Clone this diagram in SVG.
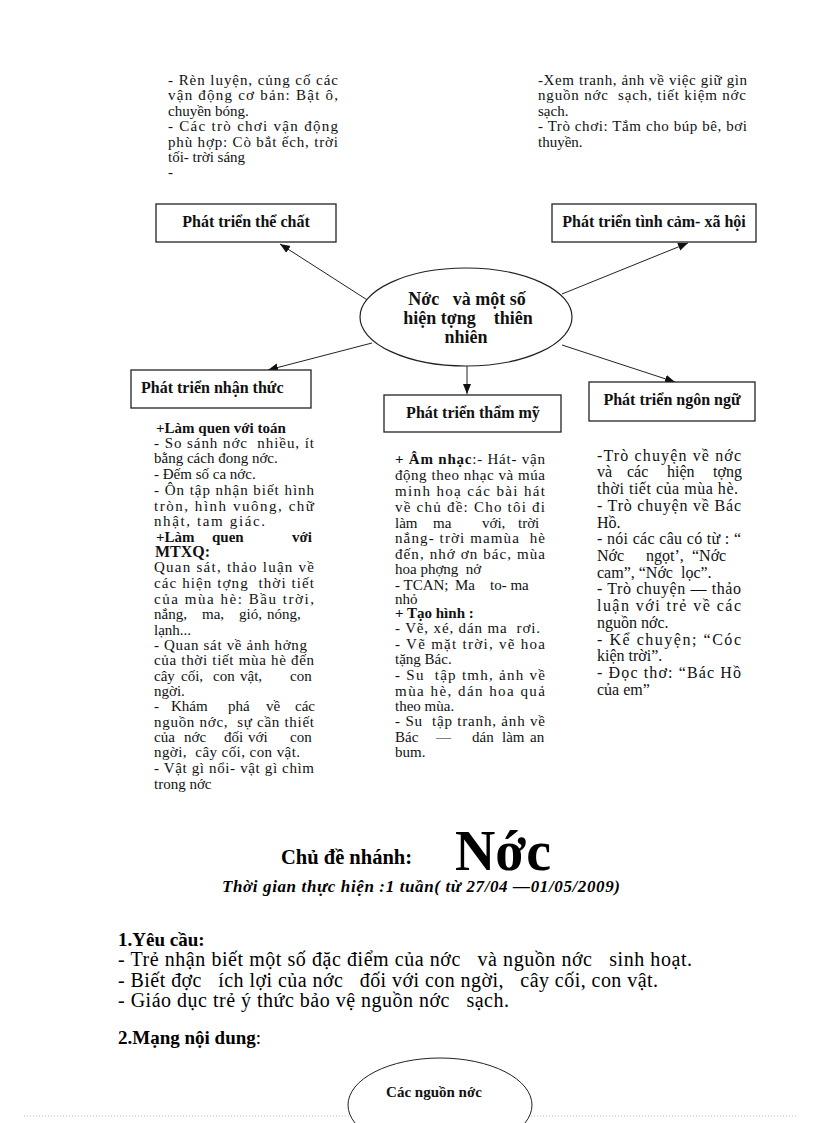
<svg xmlns="http://www.w3.org/2000/svg" width="816" height="1123" viewBox="0 0 816 1123">
<defs>
<style>
.t{font-family:"Liberation Serif","Times New Roman",serif;font-size:15px;fill:#111}
.r{font-family:"Liberation Serif","Times New Roman",serif;font-size:16px;fill:#111}
.b{font-weight:bold}
.lbl{font-family:"Liberation Serif","Times New Roman",serif;font-size:16px;font-weight:bold;fill:#111}
.box{fill:#fff;stroke:#222;stroke-width:1.3}
.con{stroke:#222;stroke-width:1;fill:none}
.big{font-family:"Liberation Serif","Times New Roman",serif;fill:#000}
</style>
<marker id="ah" markerUnits="userSpaceOnUse" markerWidth="10" markerHeight="10" viewBox="0 0 10 10" refX="10" refY="5" orient="auto">
<path d="M0,1 L10,5 L0,9 Z" fill="#111"/>
</marker>
</defs>
<rect width="816" height="1123" fill="#fff"/>

<g id="text-the-chat">
<text class="t" x="168" y="85" textLength="170" lengthAdjust="spacing">- Rèn luyện, củng cố các</text>
<text class="t" x="168" y="100" textLength="170" lengthAdjust="spacing">vận động cơ bản: Bật ô,</text>
<text class="t" x="168" y="116">chuyền bóng.</text>
<text class="t" x="168" y="131" textLength="170" lengthAdjust="spacing">- Các trò chơi vận động</text>
<text class="t" x="168" y="147" textLength="170" lengthAdjust="spacing">phù hợp: Cò bắt ếch, trời</text>
<text class="t" x="168" y="162">tối- trời sáng</text>
<text class="t" x="168" y="177">-</text>
</g>

<g id="text-tinh-cam">
<text class="t" x="538" y="85" textLength="209" lengthAdjust="spacing">-Xem tranh, ảnh về việc giữ gìn</text>
<text class="t" x="538" y="100" textLength="208" lengthAdjust="spacing" xml:space="preserve">nguồn nớc  sạch, tiết kiệm nớc</text>
<text class="t" x="538" y="116">sạch.</text>
<text class="t" x="538" y="131" textLength="209" lengthAdjust="spacing">- Trò chơi: Tắm cho búp bê, bơi</text>
<text class="t" x="538" y="147">thuyền.</text>
</g>

<g id="connectors">
<line class="con" x1="372" y1="303" x2="280" y2="244" marker-end="url(#ah)"/>
<line class="con" x1="562" y1="294" x2="688" y2="243" marker-end="url(#ah)"/>
<line class="con" x1="372" y1="343" x2="268" y2="370" marker-end="url(#ah)"/>
<line class="con" x1="467" y1="366" x2="467" y2="394" marker-end="url(#ah)"/>
<line class="con" x1="562" y1="345" x2="675" y2="382" marker-end="url(#ah)"/>
</g>

<g id="node-the-chat">
<rect class="box" x="156" y="204" width="180" height="38"/>
<text class="lbl" x="246" y="227" text-anchor="middle">Phát triển thể chất</text>
</g>
<g id="node-tinh-cam">
<rect class="box" x="552" y="204" width="204" height="38"/>
<text class="lbl" x="654" y="227" text-anchor="middle">Phát triển tình cảm- xã hội</text>
</g>
<g id="node-center">
<ellipse cx="466" cy="317" rx="106" ry="49" fill="#fff" stroke="#222" stroke-width="1.2"/>
<text class="lbl" x="467" y="305" text-anchor="middle" style="font-size:18px" xml:space="preserve">Nớc   và một số</text>
<text class="lbl" x="468" y="324" text-anchor="middle" style="font-size:18px" xml:space="preserve">hiện tợng    thiên</text>
<text class="lbl" x="466" y="343" text-anchor="middle" style="font-size:18px">nhiên</text>
</g>
<g id="node-nhan-thuc">
<rect class="box" x="131" y="370" width="180" height="38"/>
<text class="lbl" x="141" y="393">Phát triển nhận thức</text>
</g>
<g id="node-tham-my">
<rect class="box" x="384" y="395" width="177" height="37"/>
<text class="lbl" x="473" y="418" text-anchor="middle">Phát triển thẩm mỹ</text>
</g>
<g id="node-ngon-ngu">
<rect class="box" x="589" y="382" width="166" height="39"/>
<text class="lbl" x="672" y="405" text-anchor="middle">Phát triển ngôn ngữ</text>
</g>

<g id="text-nhan-thuc">
<text class="t b" x="156" y="433">+Làm quen với toán</text>
<text class="t" x="154" y="448" textLength="160" lengthAdjust="spacing" xml:space="preserve">- So sánh nớc  nhiều, ít</text>
<text class="t" x="154" y="463">bằng cách đong nớc.</text>
<text class="t" x="154" y="479">- Đếm số ca nớc.</text>
<text class="t" x="154" y="495" textLength="160" lengthAdjust="spacing">- Ôn tập nhận biết hình</text>
<text class="t" x="154" y="511" textLength="160" lengthAdjust="spacing">tròn, hình vuông, chữ</text>
<text class="t" x="154" y="526" textLength="111" lengthAdjust="spacing">nhật, tam giác.</text>
<text class="t b" y="542"><tspan x="156">+Làm</tspan><tspan x="212">quen</tspan><tspan x="292">với</tspan></text>
<text class="t b" x="155" y="557" style="font-size:16px">MTXQ:</text>
<text class="t" x="154" y="572" textLength="160" lengthAdjust="spacing">Quan sát, thảo luận về</text>
<text class="t" x="154" y="588" textLength="160" lengthAdjust="spacing" xml:space="preserve">các hiện tợng  thời tiết</text>
<text class="t" x="154" y="604" textLength="160" lengthAdjust="spacing">của mùa hè: Bầu trời,</text>
<text class="t" y="619"><tspan x="154">nắng,</tspan><tspan x="202">ma,</tspan><tspan x="239">gió,</tspan><tspan x="267">nóng,</tspan></text>
<text class="t" x="154" y="635">lạnh...</text>
<text class="t" x="154" y="650" textLength="153" lengthAdjust="spacing">- Quan sát về ảnh hởng</text>
<text class="t" x="154" y="665" textLength="160" lengthAdjust="spacing">của thời tiết mùa hè đến</text>
<text class="t" y="681"><tspan x="154">cây</tspan><tspan x="181">cối,</tspan><tspan x="213">con</tspan><tspan x="240">vật,</tspan><tspan x="290">con</tspan></text>
<text class="t" x="154" y="696">ngời.</text>
<text class="t" y="711"><tspan x="154">-</tspan><tspan x="171">Khám</tspan><tspan x="228">phá</tspan><tspan x="266">về</tspan><tspan x="295">các</tspan></text>
<text class="t" x="154" y="727" textLength="160" lengthAdjust="spacing" xml:space="preserve">nguồn nớc,  sự cần thiết</text>
<text class="t" y="742"><tspan x="154">của</tspan><tspan x="184">nớc</tspan><tspan x="224">đối</tspan><tspan x="248">với</tspan><tspan x="290">con</tspan></text>
<text class="t" x="154" y="757" textLength="146" lengthAdjust="spacing" xml:space="preserve">ngời,  cây cối, con vật.</text>
<text class="t" x="154" y="773" textLength="160" lengthAdjust="spacing">- Vật gì nổi- vật gì chìm</text>
<text class="t" x="154" y="789">trong nớc</text>
</g>

<g id="text-tham-my">
<text class="t" x="395" y="464" textLength="150" lengthAdjust="spacing"><tspan class="b">+ Âm nhạc</tspan>:- Hát- vận</text>
<text class="t" x="395" y="480" textLength="150" lengthAdjust="spacing">động theo nhạc và múa</text>
<text class="t" x="395" y="496" textLength="150" lengthAdjust="spacing">minh hoạ các bài hát</text>
<text class="t" x="395" y="512" textLength="150" lengthAdjust="spacing">về chủ đề: Cho tôi đi</text>
<text class="t" y="528"><tspan x="395">làm</tspan><tspan x="433">ma</tspan><tspan x="482">với,</tspan><tspan x="518">trời</tspan></text>
<text class="t" x="395" y="543" textLength="150" lengthAdjust="spacing" xml:space="preserve">nắng- trời mamùa  hè</text>
<text class="t" x="395" y="559" textLength="150" lengthAdjust="spacing">đến, nhớ ơn bác, mùa</text>
<text class="t" x="395" y="574" xml:space="preserve">hoa phợng  nở</text>
<text class="t" y="590"><tspan x="395">- TCAN;</tspan><tspan x="455">Ma</tspan><tspan x="490">to- ma</tspan></text>
<text class="t" x="395" y="604">nhỏ</text>
<text class="t b" x="395" y="618">+ Tạo hình :</text>
<text class="t" x="395" y="633" textLength="145" lengthAdjust="spacing" xml:space="preserve">- Vẽ, xé, dán ma  rơi.</text>
<text class="t" x="395" y="649" textLength="150" lengthAdjust="spacing">- Vẽ mặt trời, vẽ hoa</text>
<text class="t" x="395" y="664">tặng Bác.</text>
<text class="t" x="395" y="680" textLength="150" lengthAdjust="spacing" xml:space="preserve">- Su  tập tmh, ảnh về</text>
<text class="t" x="395" y="696" textLength="150" lengthAdjust="spacing">mùa hè, dán hoa quả</text>
<text class="t" x="395" y="711">theo mùa.</text>
<text class="t" x="395" y="726" textLength="150" lengthAdjust="spacing" xml:space="preserve">- Su  tập tranh, ảnh về</text>
<text class="t" y="742"><tspan x="395">Bác</tspan><tspan x="436">—</tspan><tspan x="472">dán</tspan><tspan x="502">làm</tspan><tspan x="530">an</tspan></text>
<text class="t" x="395" y="757">bum.</text>
</g>

<g id="text-ngon-ngu">
<text class="r" x="597" y="461" textLength="144" lengthAdjust="spacing">-Trò chuyện về nớc</text>
<text class="r" y="477"><tspan x="597">và</tspan><tspan x="627">các</tspan><tspan x="667">hiện</tspan><tspan x="713">tợng</tspan></text>
<text class="r" x="597" y="494" textLength="141" lengthAdjust="spacing">thời tiết của mùa hè.</text>
<text class="r" x="597" y="511" textLength="144" lengthAdjust="spacing">- Trò chuyện về Bác</text>
<text class="r" x="597" y="528">Hồ.</text>
<text class="r" x="597" y="544" textLength="144" lengthAdjust="spacing">- nói các câu có từ : “</text>
<text class="r" y="561"><tspan x="597">Nớc</tspan><tspan x="646">ngọt’,</tspan><tspan x="692">“Nớc</tspan></text>
<text class="r" x="597" y="578" xml:space="preserve">cam”, “Nớc  lọc”.</text>
<text class="r" x="597" y="594" textLength="144" lengthAdjust="spacing">- Trò chuyện — thảo</text>
<text class="r" x="597" y="611" textLength="144" lengthAdjust="spacing">luận với trẻ về các</text>
<text class="r" x="597" y="628">nguồn nớc.</text>
<text class="r" x="597" y="645" textLength="144" lengthAdjust="spacing">- Kể chuyện; “Cóc</text>
<text class="r" x="597" y="661">kiện trời”.</text>
<text class="r" x="597" y="678" textLength="144" lengthAdjust="spacing">- Đọc thơ: “Bác Hồ</text>
<text class="r" x="597" y="695">của em”</text>
</g>

<g id="title">
<text class="big" x="281" y="864" font-size="20.5" font-weight="bold">Chủ đề nhánh:</text>
<text class="big" x="455" y="870" font-size="56" font-weight="bold" textLength="96" lengthAdjust="spacingAndGlyphs">Nớc</text>
<text class="big" x="222" y="892" font-size="17" font-weight="bold" font-style="italic" textLength="398" lengthAdjust="spacing">Thời gian thực hiện :1 tuần( từ 27/04 —01/05/2009)</text>
</g>

<g id="requirements">
<text class="big" x="118" y="946" font-size="19" font-weight="bold">1.Yêu cầu:</text>
<text class="big" x="118" y="966" font-size="20" textLength="574" lengthAdjust="spacing" xml:space="preserve">- Trẻ nhận biết một số đặc điểm của nớc   và nguồn nớc   sinh hoạt.</text>
<text class="big" x="118" y="987" font-size="20" textLength="540" lengthAdjust="spacing" xml:space="preserve">- Biết đợc   ích lợi của nớc   đối với con ngời,   cây cối, con vật.</text>
<text class="big" x="118" y="1007" font-size="20" textLength="391" lengthAdjust="spacing" xml:space="preserve">- Giáo dục trẻ ý thức bảo vệ nguồn nớc   sạch.</text>
<text class="big" x="118" y="1044" font-size="19"><tspan font-weight="bold">2.Mạng nội dung</tspan>:</text>
</g>

<line x1="24" y1="1116" x2="796" y2="1116" stroke="#bbb" stroke-width="1" stroke-dasharray="1 2"/>

<g id="node-cac-nguon-nuoc">
<ellipse cx="440" cy="1105" rx="92" ry="47" fill="#fff" stroke="#222" stroke-width="1"/>
<text class="lbl" x="434" y="1097" text-anchor="middle" style="font-size:15px">Các nguồn nớc</text>
</g>
</svg>
